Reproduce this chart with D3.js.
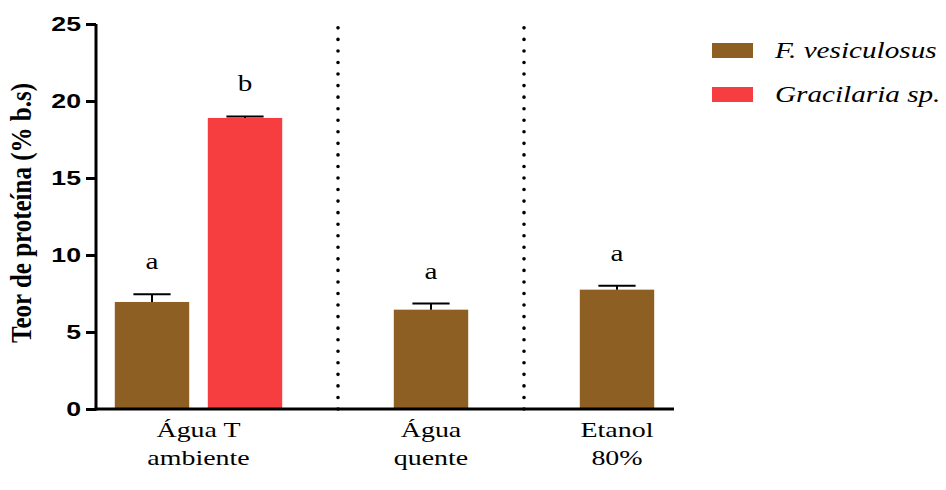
<!DOCTYPE html>
<html>
<head>
<meta charset="utf-8">
<script src="https://cdn.jsdelivr.net/npm/d3@7"></script>
<style>
  body { margin: 0; background: #fff; }
  svg { display: block; }
</style>
</head>
<body>
<svg id="chart" width="946" height="490"></svg>
<script>
// data
const groups = ["Água T\nambiente", "Água\nquente", "Etanol\n80%"];
const series = ["F. vesiculosus", "Gracilaria sp."];
const colors = ["#8d5f22", "#f63e41"];
const fvesMean = [6.95, 6.45, 7.75];
const fvesErr = [0.5, 0.4, 0.25];
const graciMean = [18.9, null, null];
const graciErr = [0.1, null, null];
const fvesLetter = ["a", "a", "a"];
const graciLetter = ["b", null, null];
const yTicks = [0, 5, 10, 15, 20, 25];

// the original figure is stretched sideways, so text is widened too
const SX = 1.27;
const SERIF = "'Liberation Serif', 'Times New Roman', serif";
const SANS = "'Liberation Sans', Arial, sans-serif";

const svg = d3.select("#chart");
const x0 = 96, x1 = 674, yTop = 24, yBot = 409;

const y = d3.scaleLinear().domain([0, 25]).range([yBot, yTop]);

// one slot per bar, plus a slot for each separator between groups
const bars = [];
const slots = [];
groups.forEach(function (g, gi) {
    if (gi > 0) slots.push("sep" + gi);
    const means = [fvesMean[gi], graciMean[gi]];
    const errs = [fvesErr[gi], graciErr[gi]];
    const letters = [fvesLetter[gi], graciLetter[gi]];
    means.forEach(function (m, si) {
        if (m == null) return;
        const key = gi + "-" + si;
        slots.push(key);
        bars.push({ key: key, group: gi, s: si, value: m, err: errs[si], letter: letters[si] });
    });
});

const x = d3.scaleBand().domain(slots).range([105.5, 663.5])
    .paddingInner(0.2).paddingOuter(0.1);
const mid = function (k) { return x(k) + x.bandwidth() / 2; };

function placed(sel, px, py) {
    return sel.attr("transform", "translate(" + px + "," + py + ") scale(" + SX + ",1)");
}

// separators
svg.selectAll("line.sep")
    .data(slots.filter(function (d) { return d.startsWith("sep"); }))
    .enter().append("line")
    .attr("class", "sep")
    .attr("x1", mid).attr("x2", mid)
    .attr("y1", y(0))
    .attr("y2", y(25) + 1)
    .attr("stroke", "#000")
    .attr("stroke-width", 3.6)
    .attr("stroke-linecap", "round")
    .attr("stroke-dasharray", "0 11.55");

// bars
svg.selectAll("rect.bar").data(bars).enter().append("rect")
    .attr("x", function (d) { return x(d.key); })
    .attr("width", x.bandwidth())
    .attr("y", function (d) { return y(d.value); })
    .attr("height", function (d) { return y(0) - y(d.value); })
    .attr("fill", function (d) { return colors[d.s]; });

// error bars
const cap = x.bandwidth() / 2;
const eb = svg.selectAll("g.err").data(bars).enter().append("g")
    .attr("stroke", "#000").attr("stroke-width", 2);
eb.append("line")
    .attr("x1", function (d) { return mid(d.key); })
    .attr("x2", function (d) { return mid(d.key); })
    .attr("y1", function (d) { return y(d.value); })
    .attr("y2", function (d) { return y(d.value + d.err); });
eb.append("line")
    .attr("x1", function (d) { return mid(d.key) - cap / 2; })
    .attr("x2", function (d) { return mid(d.key) + cap / 2; })
    .attr("y1", function (d) { return y(d.value + d.err); })
    .attr("y2", function (d) { return y(d.value + d.err); });

// significance letters
svg.selectAll("text.letter").data(bars).enter().append("text")
    .style("font-family", SERIF)
    .attr("text-anchor", "middle")
    .attr("font-size", 23)
    .each(function (d) { placed(d3.select(this), mid(d.key), y(d.value + d.err) - 25); })
    .text(function (d) { return d.letter; });

// y axis
const yAxis = svg.append("g")
    .attr("transform", "translate(" + x0 + ",0)")
    .call(d3.axisLeft(y).tickValues(yTicks).tickSize(10).tickPadding(5));
yAxis.select(".domain").attr("stroke-width", 3).attr("d", "M0," + yTop + "V" + (yBot + 1.5));
yAxis.selectAll(".tick line").attr("stroke-width", 3);
yAxis.selectAll(".tick text")
    .style("font-family", SANS)
    .style("font-weight", "bold")
    .style("font-size", "21px")
    .attr("fill", "#000")
    .attr("x", -15 / SX)
    .attr("transform", "scale(" + SX + ",1)");

// x axis line
svg.append("line")
    .attr("x1", x0 - 1.5).attr("x2", x1)
    .attr("y1", yBot).attr("y2", yBot)
    .attr("stroke", "#000").attr("stroke-width", 3);

// group labels
groups.forEach(function (g, gi) {
    const keys = bars.filter(function (b) { return b.group === gi; }).map(function (b) { return b.key; });
    const cx = (x(keys[0]) + x(keys[keys.length - 1]) + x.bandwidth()) / 2;
    const t = svg.append("text")
        .style("font-family", SERIF)
        .attr("text-anchor", "middle")
        .attr("font-size", 22);
    placed(t, cx, 437);
    g.split("\n").forEach(function (line, li) {
        t.append("tspan").attr("x", 0).attr("y", li * 28).text(line);
    });
});

// y axis title
svg.append("text")
    .style("font-family", SERIF)
    .attr("transform", "translate(31,213) rotate(-90) scale(1,1.15)")
    .attr("text-anchor", "middle")
    .attr("font-weight", "bold")
    .attr("font-size", 25)
    .text("Teor de proteína (% b.s)");

// legend
const legend = svg.selectAll("g.legend").data(series).enter().append("g")
    .attr("transform", function (d, i) { return "translate(712," + (43 + i * 44) + ")"; });
legend.append("rect")
    .attr("width", 41).attr("height", 15)
    .attr("fill", function (d, i) { return colors[i]; });
legend.append("text")
    .style("font-family", SERIF)
    .attr("font-style", "italic")
    .attr("font-size", 23)
    .each(function () { placed(d3.select(this), 63, 14.5); })
    .text(function (d) { return d; });
</script>
</body>
</html>
